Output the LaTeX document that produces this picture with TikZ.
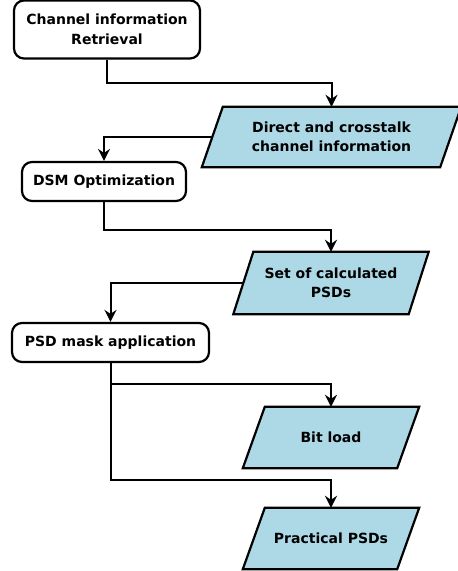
\documentclass[tikz,border=0pt]{standalone}
\usepackage{fontspec}
\setmainfont{DejaVu Sans}
\usetikzlibrary{arrows.meta,backgrounds}
\definecolor{databg}{HTML}{ADD8E6}
\tikzset{
  boxfont/.style={font=\fontsize{14}{19.5}\selectfont\bfseries},
  procbox/.style={draw=black, line width=2.2pt, rounded corners=10pt, fill=white,
    inner sep=0pt, align=center, boxfont},
  datatext/.style={inner sep=0pt, align=center, boxfont},
  datashape/.style={draw=black, line width=2.2pt, fill=databg, line join=miter},
  conn/.style={draw=black, line width=2pt, -{Stealth[length=12pt, width=12pt, inset=4pt]}}
}
\newcommand{\paraback}[2]{%
  \begin{pgfonlayer}{background}
  \draw[datashape] ([xshift=-#2/2]#1.south west) -- ([xshift=#2/2]#1.north west)
    -- ([xshift=#2/2]#1.north east) -- ([xshift=-#2/2]#1.south east) -- cycle;
  \end{pgfonlayer}}
\begin{document}
\begin{tikzpicture}[x=1pt, y=-1pt]
\useasboundingbox (0,0) rectangle (458,571);
\node[procbox, minimum width=186pt, minimum height=58pt] (b1) at (107,29.5) {Channel information\\Retrieval};
\node[datatext, minimum width=238pt, minimum height=60pt] (p1) at (331.5,137) {Direct and crosstalk\\channel information};
\node[procbox, minimum width=164pt, minimum height=39pt] (b2) at (104,181.5) {DSM Optimization};
\node[datatext, minimum width=175pt, minimum height=62pt] (p2) at (331,283) {Set of calculated\\PSDs};
\node[procbox, minimum width=197pt, minimum height=39pt] (b3) at (110.5,342.5) {PSD mask application};
\node[datatext, minimum width=154pt, minimum height=61pt] (p3) at (331,437.5) {Bit load};
\node[datatext, minimum width=154pt, minimum height=61pt] (p4) at (331,538.5) {Practical PSDs};
\paraback{p1}{21pt}
\paraback{p2}{20pt}
\paraback{p3}{22pt}
\paraback{p4}{22pt}
\draw[conn] (b1.south) -- ++(0,23) -| (p1.north);
\draw[conn] (p1.west) -| (b2.north);
\draw[conn] (b2.south) -- ++(0,28) -| (p2.north);
\draw[conn] (p2.west) -| (b3.north);
\draw[conn] (b3.south) -- ++(0,21) -| (p3.north);
\draw[conn] (b3.south) -- ++(0,117) -| (p4.north);
\end{tikzpicture}
\end{document}
